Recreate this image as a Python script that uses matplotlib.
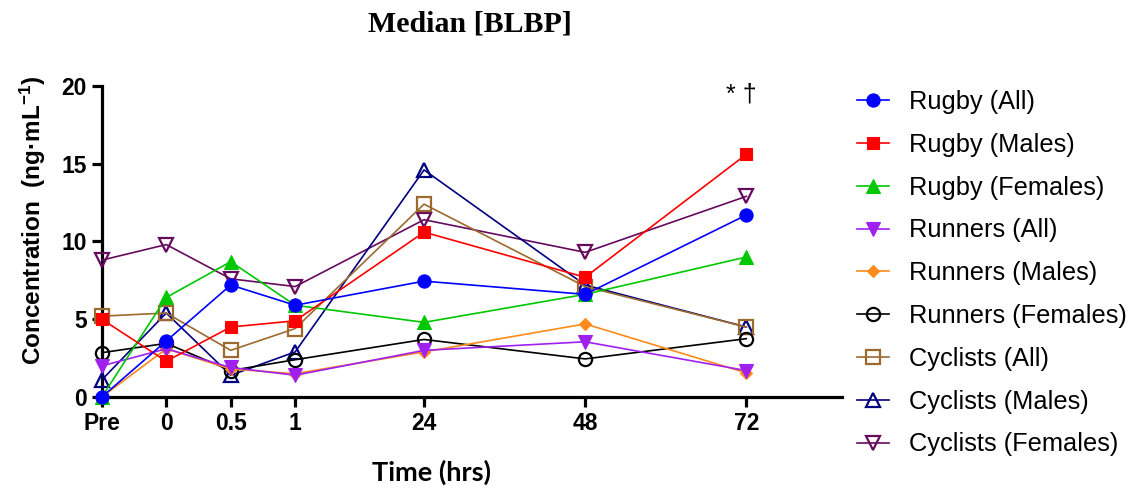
import matplotlib
matplotlib.use('Agg')
import matplotlib.pyplot as plt

# sampling times (categorical axis, uneven spacing as in the original)
time_labels = ['Pre', '0', '0.5', '1', '24', '48', '72']
time_pos = [0, 1, 2, 3, 5, 7.5, 10]

# median BLBP (ng/mL) per group
rugby_all = [0.0, 3.6, 7.2, 5.9, 7.45, 6.6, 11.7]
rugby_males = [5.0, 2.3, 4.5, 4.9, 10.6, 7.7, 15.6]
rugby_females = [0.0, 6.4, 8.7, 5.9, 4.8, 6.6, 9.0]
runners_all = [2.0, 3.1, 1.9, 1.4, 3.0, 3.55, 1.7]
runners_males = [0.0, 3.1, 1.8, 1.5, 2.9, 4.7, 1.55]
runners_females = [2.85, 3.45, 1.7, 2.4, 3.7, 2.45, 3.75]
cyclists_all = [5.2, 5.4, 3.0, 4.4, 12.4, 7.1, 4.5]
cyclists_males = [1.1, 5.4, 1.4, 2.9, 14.6, 7.2, 4.5]
cyclists_females = [8.8, 9.8, 7.6, 7.1, 11.4, 9.3, 12.9]

plt.rcParams['font.family'] = ['Liberation Sans', 'DejaVu Sans']
plt.rcParams['mathtext.fontset'] = 'custom'
plt.rcParams['mathtext.rm'] = 'Liberation Sans:bold'
plt.rcParams['mathtext.default'] = 'rm'

series = [
    ('Rugby (All)', rugby_all, '#0000FF', 'o', 9.5, True),
    ('Rugby (Males)', rugby_males, '#FF0000', 's', 9, True),
    ('Rugby (Females)', rugby_females, '#00C800', '^', 10, True),
    ('Runners (All)', runners_all, '#A020F0', 'v', 10, True),
    ('Runners (Males)', runners_males, '#FF8A1A', 'D', 6.5, True),
    ('Runners (Females)', runners_females, '#000000', 'o', 9.5, False),
    ('Cyclists (All)', cyclists_all, '#9C6A2E', 's', 9.5, False),
    ('Cyclists (Males)', cyclists_males, '#000080', '^', 10.5, False),
    ('Cyclists (Females)', cyclists_females, '#660A5E', 'v', 10.5, False),
]

fig = plt.figure(figsize=(11.4, 4.93), dpi=100)
ax = fig.add_axes([0.0893, 0.1947, 0.649, 0.631])

handles = []
for i, (name, vals, col, mk, ms, filled) in enumerate(series):
    h, = ax.plot(time_pos, vals, color=col, lw=1.2, marker=mk, ms=ms,
                 markerfacecolor=col if filled else 'none',
                 markeredgecolor=col, markeredgewidth=0.8 if filled else 1.6,
                 clip_on=False, zorder=20 - i, label=name)
    handles.append(h)

ax.set_xlim(0, 11.48)
ax.set_ylim(0, 20)
ax.set_xticks(time_pos)
ax.set_xticklabels(time_labels)
ax.set_yticks([0, 5, 10, 15, 20])
ax.spines['top'].set_visible(False)
ax.spines['right'].set_visible(False)
for s in ['left', 'bottom']:
    ax.spines[s].set_linewidth(2.3)
ax.tick_params(axis='both', length=7, width=2.3, labelsize=16.5, pad=4)
for lab in ax.get_xticklabels() + ax.get_yticklabels():
    lab.set_fontweight('bold')

fig.text(0.029, 1 - 220 / 493, r'Concentration  (ng·mL$^{-1}$)', rotation=90,
         ha='center', va='center', fontsize=17.5, fontweight='bold')
fig.text(432 / 1140, 1 - 472 / 493, 'Time (hrs)', ha='center', va='center',
         fontsize=19.5, fontweight='bold', family=['Lato', 'DejaVu Sans'])
fig.text(470 / 1140, 1 - 24 / 493, 'Median [BLBP]', ha='center', va='center',
         fontsize=21.5, fontweight='bold', family=['Liberation Serif', 'DejaVu Serif'])
ax.text(9.93, 19.45, '* \u2020', ha='center', va='center', fontsize=18)

ax.legend(handles=handles, loc='upper left', bbox_to_anchor=(857 / 1140, 1 - 90 / 493),
          bbox_transform=fig.transFigure, frameon=False, fontsize=18.3,
          handlelength=1.26, handletextpad=0.8, labelspacing=0.74,
          borderpad=0, borderaxespad=0)

plt.savefig('out.png', dpi=100)
